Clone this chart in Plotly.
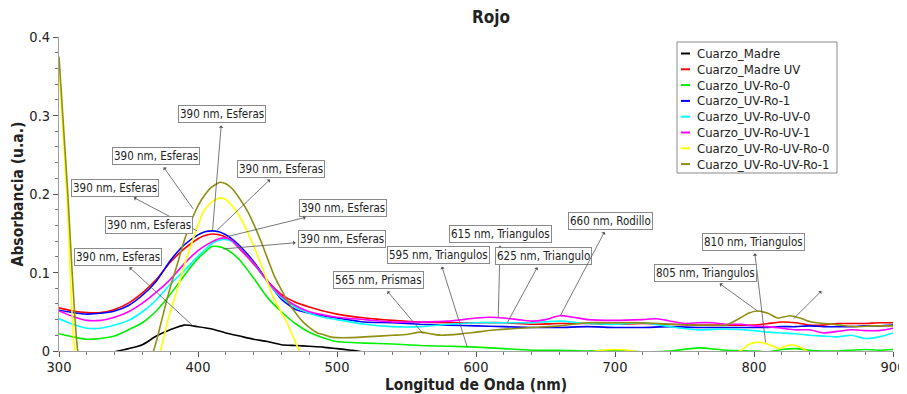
import plotly.graph_objects as go

# ---------------- data ----------------
names = ["Cuarzo_Madre", "Cuarzo_Madre UV", "Cuarzo_UV-Ro-0", "Cuarzo_UV-Ro-1",
         "Cuarzo_UV-Ro-UV-0", "Cuarzo_UV-Ro-UV-1", "Cuarzo_UV-Ro-UV-Ro-0", "Cuarzo_UV-Ro-UV-Ro-1"]
colors = ["#000000", "#ff0000", "#00f000", "#0000ff", "#00ffff", "#ff00ff", "#ffff00", "#8f8f14"]

madre_x = [300, 320, 340, 350, 360, 370, 380, 390, 400, 410, 420, 430, 440, 450, 460, 470,
           480, 490, 500, 510, 515, 520, 540, 600, 700, 800, 900]
madre_y = [-0.03, -0.015, -0.001, 0.003, 0.008, 0.019, 0.027, 0.033, 0.031, 0.028, 0.023,
           0.019, 0.015, 0.012, 0.008, 0.007, 0.006, 0.005, 0.003, 0.001, 0.0, -0.002,
           -0.005, -0.01, -0.012, -0.015, -0.015]

grid_x = [300, 310, 320, 330, 340, 350, 360, 370, 380, 390, 400, 405, 410, 415, 420, 425,
          430, 440, 450, 460, 470, 480, 490, 500, 520, 540, 560, 580, 600, 620, 640, 660,
          680, 700, 720, 740, 760, 780, 800, 810, 820, 830, 840, 850, 860, 870, 880, 890, 900]

madre_uv_y = [0.055, 0.051, 0.049, 0.049, 0.053, 0.061, 0.074, 0.091, 0.113, 0.130, 0.143,
              0.147, 0.149, 0.148, 0.145, 0.139, 0.130, 0.111, 0.089, 0.072, 0.062, 0.056,
              0.051, 0.047, 0.042, 0.039, 0.037, 0.036, 0.036, 0.036, 0.034, 0.035, 0.035,
              0.034, 0.035, 0.034, 0.033, 0.033, 0.033, 0.035, 0.037, 0.036, 0.033, 0.033,
              0.035, 0.035, 0.035, 0.036, 0.036]

uvro1_y = [0.052, 0.049, 0.047, 0.048, 0.051, 0.058, 0.071, 0.089, 0.115, 0.135, 0.148,
           0.152, 0.153, 0.152, 0.148, 0.142, 0.134, 0.114, 0.089, 0.066, 0.053, 0.048,
           0.045, 0.042, 0.037, 0.036, 0.034, 0.033, 0.032, 0.031, 0.030, 0.030, 0.031,
           0.030, 0.030, 0.031, 0.030, 0.030, 0.030, 0.030, 0.031, 0.031, 0.032, 0.031,
           0.031, 0.031, 0.032, 0.032, 0.033]

uvrouv0_y = [0.041, 0.034, 0.029, 0.029, 0.033, 0.039, 0.050, 0.065, 0.085, 0.102, 0.121,
             0.129, 0.137, 0.141, 0.142, 0.139, 0.131, 0.112, 0.088, 0.068, 0.056, 0.048,
             0.043, 0.040, 0.034, 0.031, 0.031, 0.034, 0.036, 0.036, 0.036, 0.038, 0.035,
             0.034, 0.036, 0.031, 0.027, 0.028, 0.026, 0.024, 0.023, 0.022, 0.020, 0.019,
             0.018, 0.020, 0.016, 0.018, 0.023]

uvro0_y = [0.022, 0.018, 0.015, 0.016, 0.019, 0.027, 0.036, 0.051, 0.072, 0.096, 0.118,
           0.126, 0.133, 0.133, 0.130, 0.124, 0.116, 0.093, 0.068, 0.050, 0.035, 0.024,
           0.017, 0.012, 0.010, 0.009, 0.007, 0.006, 0.005, 0.003, 0.001, 0.001, 0.0,
           0.001, -0.001, 0.0, 0.004, 0.001, 0.0, -0.001, 0.002, 0.003, 0.001, 0.0,
           0.0, 0.001, 0.002, 0.001, 0.002]

uvrouv1_x = [300, 310, 320, 330, 340, 350, 360, 370, 380, 390, 400, 405, 410, 415, 420, 425,
             430, 440, 450, 460, 470, 480, 490, 500, 520, 540, 560, 580, 600, 610, 620, 630,
             640, 650, 660, 670, 680, 700, 720, 730, 740, 750, 760, 770, 780, 790, 800, 810,
             820, 830, 840, 850, 860, 870, 880, 890, 900]
uvrouv1_y = [0.051, 0.044, 0.039, 0.039, 0.043, 0.050, 0.061, 0.075, 0.091, 0.111, 0.128,
             0.134, 0.139, 0.143, 0.144, 0.140, 0.131, 0.112, 0.089, 0.070, 0.058, 0.050,
             0.046, 0.043, 0.040, 0.037, 0.037, 0.038, 0.042, 0.043, 0.042, 0.040, 0.038,
             0.040, 0.045, 0.043, 0.040, 0.039, 0.040, 0.041, 0.038, 0.035, 0.036, 0.036,
             0.034, 0.034, 0.032, 0.031, 0.029, 0.027, 0.027, 0.023, 0.025, 0.027, 0.026,
             0.026, 0.029]

uvrouvro0_x = [300, 306, 311.5, 320, 365, 373, 378.5, 385.7, 390, 396, 400, 404, 410, 416,
               420, 425, 430, 435, 440, 445, 450, 454, 460, 464, 468, 473, 480, 500, 520,
               560, 600, 650, 680, 690, 700, 710, 720, 740, 760, 780, 790, 796, 801, 808,
               815, 818, 826, 833, 838, 845, 900]
uvrouvro0_y = [0.362, 0.19, 0.0, -0.05, -0.05, 0.0, 0.040, 0.082, 0.108, 0.140, 0.160,
               0.178, 0.190, 0.195, 0.193, 0.184, 0.171, 0.154, 0.134, 0.112, 0.088, 0.069,
               0.049, 0.036, 0.020, 0.0, -0.02, -0.03, -0.02, -0.01, -0.008, -0.006,
               -0.002, 0.001, 0.002, 0.001, -0.002, -0.006, -0.005, -0.004, 0.0, 0.008,
               0.011, 0.010, 0.005, 0.003, 0.008, 0.005, 0.0, -0.006, -0.01]

uvrouvro1_x = [300, 306, 313.5, 320, 360, 368, 370, 374, 378, 381, 385, 390, 395, 400, 405,
               410, 416, 420, 425, 430, 435, 440, 445, 450, 455, 460, 465, 470, 475, 480,
               486, 490, 495, 500, 510, 520, 540, 550, 560, 567, 575, 590, 600, 615, 640,
               660, 680, 700, 720, 740, 760, 780, 790, 796, 802, 810, 817, 826, 833, 841,
               857, 872, 885, 900]
uvrouvro1_y = [0.375, 0.21, 0.0, -0.05, -0.05, 0.0, 0.012, 0.040, 0.068, 0.087, 0.110,
               0.140, 0.165, 0.185, 0.199, 0.209, 0.215, 0.213, 0.206, 0.194, 0.180, 0.162,
               0.141, 0.118, 0.095, 0.078, 0.062, 0.049, 0.038, 0.030, 0.023, 0.021, 0.018,
               0.017, 0.017, 0.018, 0.020, 0.021, 0.024, 0.022, 0.020, 0.022, 0.024, 0.027,
               0.030, 0.032, 0.036, 0.036, 0.036, 0.034, 0.033, 0.033, 0.042, 0.048, 0.051,
               0.048, 0.042, 0.045, 0.042, 0.037, 0.034, 0.031, 0.032, 0.032]

series_x = [madre_x, grid_x, grid_x, grid_x, grid_x, uvrouv1_x, uvrouvro0_x, uvrouvro1_x]
series_y = [madre_y, madre_uv_y, uvro0_y, uvro1_y, uvrouv0_y, uvrouv1_y, uvrouvro0_y, uvrouvro1_y]

# annotations: label, target wavelength/absorbance, label-centre wavelength/absorbance
ann_text = ["390 nm, Esferas", "390 nm, Esferas", "390 nm, Esferas", "390 nm, Esferas",
            "390 nm, Esferas", "390 nm, Esferas", "390 nm, Esferas", "390 nm, Esferas",
            "565 nm, Prismas", "595 nm, Triangulos", "615 nm, Triangulos", "625 nm, Triangulo",
            "660 nm, Rodillo", "810 nm, Triangulos", "805 nm, Triangulos", " "]
ann_x = [410.5, 396.5, 413.8, 399.4, 365.0, 395.8, 421.7, 418.1,
         562.0, 593.7, 616.0, 622.5, 660.7, 808.3, 802.5, 828.4]
ann_y = [0.154, 0.181, 0.154, 0.153, 0.160, 0.033, 0.146, 0.130,
         0.022, 0.005, 0.043, 0.036, 0.045, 0.011, 0.051, 0.041]
ann_ax = [417.4, 369.8, 459.8, 340.3, 357.6, 342.5, 504.5, 503.7,
          529.7, 572.9, 617.5, 648.5, 696.7, 799.6, 765.1, 852.2]
ann_ay = [0.302, 0.248, 0.232, 0.208, 0.166, 0.120, 0.182, 0.143,
          0.090, 0.122, 0.149, 0.121, 0.166, 0.139, 0.099, 0.083]
ann_arrow = [True] * 4 + [False] + [True] * 11

FONT = "Tahoma, 'DejaVu Sans Condensed', 'DejaVu Sans', sans-serif"

# The page body has an 8px margin, so the figure is drawn 8px smaller and
# the plot area is placed to land on window pixels x 59..893, y 37..351.
OFF = 8
WIN_W, WIN_H = 907, 394
W, H = WIN_W - OFF, WIN_H - OFF
ML, MR, MT, MB = 59 - OFF, 14, 37 - OFF, 43
PW, PH = W - ML - MR, H - MT - MB


def px(xp):  # window pixel x -> paper x
    return (xp - OFF - ML) / PW


def py(yp):  # window pixel y -> paper y
    return (H - MB - (yp - OFF)) / PH


fig = go.Figure()
for n, c, xs, ys in zip(names, colors, series_x, series_y):
    fig.add_trace(go.Scatter(x=xs, y=ys, mode="lines", name=n, showlegend=False,
                             line=dict(color=c, width=1.6, shape="spline", smoothing=0.6)))

for t, x, y, ax, ay, sa in zip(ann_text, ann_x, ann_y, ann_ax, ann_ay, ann_arrow):
    blank = (t == " ")
    fig.add_annotation(
        x=x, y=y, ax=ax, ay=ay, xref="x", yref="y", axref="x", ayref="y",
        text=t, showarrow=sa, arrowside="start", arrowhead=2, arrowsize=0.7,
        arrowwidth=0.8, arrowcolor="#555555", startstandoff=3,
        font=dict(family=FONT, size=11.5, color="#222222"),
        bgcolor="rgba(0,0,0,0)" if blank else "white",
        bordercolor="rgba(0,0,0,0)" if blank else "#8a8a8a",
        borderwidth=1, borderpad=1,
    )

# legend box (hand-made so that the rows are as tight as in the reference)
LX0, LY0, LX1, LY1 = 677, 42, 837, 173
fig.add_shape(type="rect", xref="paper", yref="paper",
              x0=px(LX0), x1=px(LX1), y0=py(LY1), y1=py(LY0),
              line=dict(color="#8a8a8a", width=1), fillcolor="white", layer="above")
ROW0, ROWH = 53.5, 15.8
for i, (n, c) in enumerate(zip(names, colors)):
    yc = ROW0 + i * ROWH
    fig.add_shape(type="line", xref="paper", yref="paper",
                  x0=px(681), x1=px(690), y0=py(yc), y1=py(yc),
                  line=dict(color=c, width=2), layer="above")
    fig.add_annotation(x=px(695), y=py(yc), xref="paper", yref="paper",
                       text=n, showarrow=False, xanchor="left", yanchor="middle",
                       font=dict(family=FONT, size=13, color="#222222"))

fig.update_layout(
    width=W, height=H,
    margin=dict(l=ML, r=MR, t=MT, b=MB),
    paper_bgcolor="white", plot_bgcolor="white",
    font=dict(family=FONT, size=14, color="#222222"),
    title=dict(text="<b>Rojo</b>", x=px(491), xref="paper", y=1 - (17 - OFF) / H,
               yref="container", xanchor="center", yanchor="middle",
               font=dict(family=FONT, size=17, color="#222222")),
    showlegend=False,
)
fig.update_xaxes(range=[300, 900], dtick=100, tick0=300, showgrid=False, zeroline=False,
                 showline=True, linecolor="#a0a0a0", linewidth=1, automargin=False,
                 ticks="outside", ticklen=5, tickcolor="#555555", ticklabelstandoff=-2,
                 minor=dict(dtick=20, ticks="outside", ticklen=3, tickcolor="#777777"),
                 tickfont=dict(size=14.5),
                 title=dict(text="<b>Longitud de Onda (nm)</b>", standoff=4,
                            font=dict(size=15.5)))
fig.update_yaxes(range=[0, 0.4], dtick=0.1, showgrid=False, zeroline=False,
                 showline=True, linecolor="#a0a0a0", linewidth=1, automargin=False,
                 ticks="outside", ticklen=5, tickcolor="#555555",
                 minor=dict(dtick=0.02, ticks="outside", ticklen=3, tickcolor="#777777"),
                 tickfont=dict(size=14.5),
                 title=dict(text="<b>Absorbancia (u.a.)</b>", standoff=1,
                            font=dict(size=15.5)))

fig.write_html("out.html")
